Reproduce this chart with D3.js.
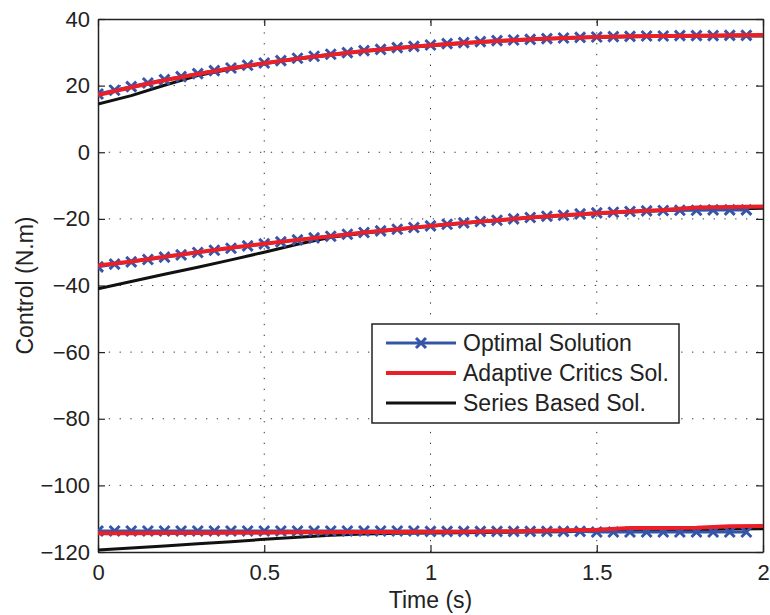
<!DOCTYPE html>
<html>
<head>
<meta charset="utf-8">
<script src="https://cdn.jsdelivr.net/npm/d3@7"></script>
<style>
  html, body { margin: 0; padding: 0; background: #fff; }
  svg { display: block; font-family: "Liberation Sans", Arial, sans-serif; }
</style>
</head>
<body>
<svg id="chart" width="770" height="615"></svg>
<script>
// ---------------- DATA ----------------
const xTicks = [0, 0.5, 1, 1.5, 2];
const xTickLabels = ["0", "0.5", "1", "1.5", "2"];
const yTicks = [40, 20, 0, -20, -40, -60, -80, -100, -120];
const yTickLabels = ["40", "20", "0", "\u221220", "\u221240", "\u221260", "\u221280", "\u2212100", "\u2212120"];
const xLabel = "Time (s)";
const yLabel = "Control (N.m)";
const legendLabels = ["Optimal Solution", "Adaptive Critics Sol.", "Series Based Sol."];

// time samples of the optimal solution (markers)
const timeOpt = [0, 0.05, 0.1, 0.15, 0.2, 0.25, 0.3, 0.35, 0.4, 0.45,
  0.5, 0.55, 0.6, 0.65, 0.7, 0.75, 0.8, 0.85, 0.9, 0.95,
  1.0, 1.05, 1.1, 1.15, 1.2, 1.25, 1.3, 1.35, 1.4, 1.45,
  1.5, 1.55, 1.6, 1.65, 1.7, 1.75, 1.8, 1.85, 1.9, 1.95];
// time samples of the two approximate solutions
const timeApprox = [0, 0.1, 0.2, 0.3, 0.4, 0.5, 0.6, 0.7, 0.8, 0.9, 1.0,
  1.1, 1.2, 1.3, 1.4, 1.5, 1.6, 1.7, 1.8, 1.9, 2.0];

// Optimal solution, three control components
const optU1 = [17.5, 18.6, 19.7, 20.8, 21.8, 22.7, 23.6, 24.5, 25.3, 26.1,
  26.8, 27.5, 28.2, 28.8, 29.4, 29.9, 30.5, 30.9, 31.4, 31.8,
  32.2, 32.6, 32.9, 33.2, 33.5, 33.7, 33.9, 34.1, 34.3, 34.5,
  34.6, 34.7, 34.8, 34.9, 34.9, 35.0, 35.0, 35.0, 35.1, 35.1];
const optU2 = [-34.4, -33.6, -32.9, -32.2, -31.5, -30.8, -30.1, -29.4, -28.8, -28.1,
  -27.5, -26.9, -26.3, -25.7, -25.2, -24.6, -24.1, -23.6, -23.1, -22.6,
  -22.1, -21.6, -21.2, -20.8, -20.4, -20.0, -19.6, -19.2, -18.9, -18.5,
  -18.2, -18.0, -17.8, -17.6, -17.5, -17.4, -17.4, -17.3, -17.3, -17.3];
const optU3 = [-113.7, -113.7, -113.7, -113.7, -113.7, -113.7, -113.7, -113.7, -113.7, -113.7,
  -113.7, -113.7, -113.7, -113.7, -113.7, -113.7, -113.7, -113.7, -113.7, -113.7,
  -113.8, -113.8, -113.8, -113.8, -113.8, -113.8, -113.8, -113.8, -113.8, -113.8,
  -114.0, -114.0, -114.0, -114.0, -114.0, -114.0, -114.0, -114.0, -114.0, -114.0];

// Adaptive critics solution
const acU1 = [17.2, 19.5, 21.6, 23.5, 25.2, 26.7, 28.1, 29.3, 30.4, 31.3, 32.1,
  32.8, 33.4, 33.9, 34.3, 34.6, 34.8, 34.9, 35.0, 35.1, 35.2];
const acU2 = [-34.0, -32.8, -31.4, -30.0, -28.7, -27.5, -26.3, -25.2, -24.1, -23.1, -22.1,
  -21.2, -20.4, -19.6, -18.9, -18.3, -17.8, -17.3, -16.6, -16.4, -16.3];
const acU3 = [-114.4, -114.4, -114.3, -114.3, -114.2, -114.2, -114.1, -114.1, -114.0, -114.0, -113.9,
  -113.9, -113.8, -113.7, -113.5, -113.3, -112.8, -112.8, -112.7, -112.3, -112.2];

// Series based solution
const sbU1 = [14.5, 17.0, 20.1, 23.0, 25.0, 26.6, 28.0, 29.2, 30.3, 31.2, 32.0,
  32.7, 33.3, 33.8, 34.2, 34.5, 34.7, 34.8, 34.9, 34.9, 34.9];
const sbU2 = [-41.0, -38.8, -36.6, -34.5, -32.3, -30.0, -27.6, -25.5, -24.3, -23.2, -22.2,
  -21.3, -20.5, -19.7, -19.0, -18.4, -17.9, -17.5, -17.2, -17.0, -16.8];
const sbU3 = [-119.4, -118.8, -118.2, -117.5, -116.9, -116.2, -115.6, -115.0, -114.6, -114.4, -114.3,
  -114.2, -114.1, -114.0, -113.9, -113.7, -113.5, -113.4, -113.3, -113.1, -113.0];

// ---------------- CHART ----------------
const W = 770, H = 615;
const plot = { left: 98, right: 763, top: 19, bottom: 552 };
const colors = { opt: "#3556a8", ac: "#ea1f27", sb: "#111111", axis: "#222222", text: "#222222" };
const fontSize = 22;
const labelSize = 23;

const svg = d3.select("#chart");
const x = d3.scaleLinear().domain([0, 2]).range([plot.left, plot.right]);
const y = d3.scaleLinear().domain([-120, 40]).range([plot.bottom, plot.top]);

svg.append("rect").attr("width", W).attr("height", H).attr("fill", "#fff");

svg.append("defs").append("clipPath").attr("id", "clip")
  .append("rect")
  .attr("x", plot.left).attr("y", plot.top)
  .attr("width", plot.right - plot.left).attr("height", plot.bottom - plot.top);

// grid
const grid = svg.append("g").attr("stroke", "#333").attr("stroke-width", 1)
  .attr("stroke-dasharray", "1.3,9.5").attr("fill", "none");
xTicks.slice(1, -1).forEach(v => {
  grid.append("line").attr("x1", x(v)).attr("x2", x(v)).attr("y1", plot.bottom).attr("y2", plot.top);
});
yTicks.slice(1, -1).forEach(v => {
  grid.append("line").attr("x1", plot.left).attr("x2", plot.right).attr("y1", y(v)).attr("y2", y(v));
});

// axes (MATLAB style box, inward ticks)
const tickLen = -7;
const gB = svg.append("g").attr("transform", `translate(0,${plot.bottom})`)
  .call(d3.axisBottom(x).tickValues(xTicks).tickSizeInner(tickLen).tickSizeOuter(0)
    .tickFormat((d, i) => xTickLabels[i]).tickPadding(12));
const gT = svg.append("g").attr("transform", `translate(0,${plot.top})`)
  .call(d3.axisTop(x).tickValues(xTicks).tickSizeInner(tickLen).tickSizeOuter(0).tickFormat(""));
const gL = svg.append("g").attr("transform", `translate(${plot.left},0)`)
  .call(d3.axisLeft(y).tickValues(yTicks).tickSizeInner(tickLen).tickSizeOuter(0)
    .tickFormat((d, i) => yTickLabels[i]).tickPadding(8));
const gR = svg.append("g").attr("transform", `translate(${plot.right},0)`)
  .call(d3.axisRight(y).tickValues(yTicks).tickSizeInner(tickLen).tickSizeOuter(0).tickFormat(""));

[gB, gT, gL, gR].forEach(g => {
  g.select(".domain").attr("stroke", colors.axis).attr("stroke-width", 1.5);
  g.selectAll(".tick line").attr("stroke", colors.axis).attr("stroke-width", 1.2);
  g.selectAll("text").attr("fill", colors.text).attr("font-size", fontSize)
    .attr("font-family", "'Liberation Sans', Arial, sans-serif");
});

// series
const lineGen = d3.line().x(d => x(d[0])).y(d => y(d[1]));
const plotG = svg.append("g").attr("clip-path", "url(#clip)");
const zip = (ts, vs) => ts.map((t, i) => [t, vs[i]]);

const sbSeries = [sbU1, sbU2, sbU3].map(v => zip(timeApprox, v));
const optSeries = [optU1, optU2, optU3].map(v => zip(timeOpt, v));
const acSeries = [acU1, acU2, acU3].map(v => zip(timeApprox, v));

sbSeries.forEach(s => {
  plotG.append("path").datum(s).attr("d", lineGen).attr("fill", "none")
    .attr("stroke", colors.sb).attr("stroke-width", 3).attr("stroke-linejoin", "round");
});
const markerPath = "M-5,-5L5,5M-5,5L5,-5";
optSeries.forEach(s => {
  plotG.append("path").datum(s).attr("d", lineGen).attr("fill", "none")
    .attr("stroke", colors.opt).attr("stroke-width", 3).attr("stroke-linejoin", "round");
  plotG.append("g").selectAll("path").data(s).join("path")
    .attr("transform", d => `translate(${x(d[0])},${y(d[1])})`)
    .attr("d", markerPath).attr("stroke", colors.opt).attr("stroke-width", 3).attr("fill", "none");
});
acSeries.forEach(s => {
  plotG.append("path").datum(s).attr("d", lineGen).attr("fill", "none")
    .attr("stroke", colors.ac).attr("stroke-width", 4).attr("stroke-linejoin", "round");
});

// axis labels
svg.append("text").attr("x", (plot.left + plot.right) / 2).attr("y", 608)
  .attr("text-anchor", "middle").attr("font-size", labelSize).attr("fill", colors.text)
  .text(xLabel);
svg.append("text").attr("transform", `translate(33,${(plot.top + plot.bottom) / 2}) rotate(-90)`)
  .attr("text-anchor", "middle").attr("font-size", labelSize).attr("fill", colors.text)
  .text(yLabel);

// legend
const lg = svg.append("g");
lg.append("rect").attr("x", 372).attr("y", 324).attr("width", 307).attr("height", 99)
  .attr("fill", "#fff").attr("stroke", colors.axis).attr("stroke-width", 1.5);
const legendStyles = [
  { color: colors.opt, width: 3, marker: true },
  { color: colors.ac, width: 4, marker: false },
  { color: colors.sb, width: 3, marker: false }
];
legendLabels.forEach((lab, i) => {
  const cy = 343 + i * 30;
  const st = legendStyles[i];
  lg.append("line").attr("x1", 386).attr("x2", 456).attr("y1", cy).attr("y2", cy)
    .attr("stroke", st.color).attr("stroke-width", st.width);
  if (st.marker) {
    lg.append("path").attr("transform", `translate(421,${cy})`).attr("d", markerPath)
      .attr("stroke", st.color).attr("stroke-width", 3).attr("fill", "none");
  }
  lg.append("text").attr("x", 463).attr("y", cy + 8).attr("font-size", labelSize)
    .attr("fill", colors.text).text(lab);
});
</script>
</body>
</html>
